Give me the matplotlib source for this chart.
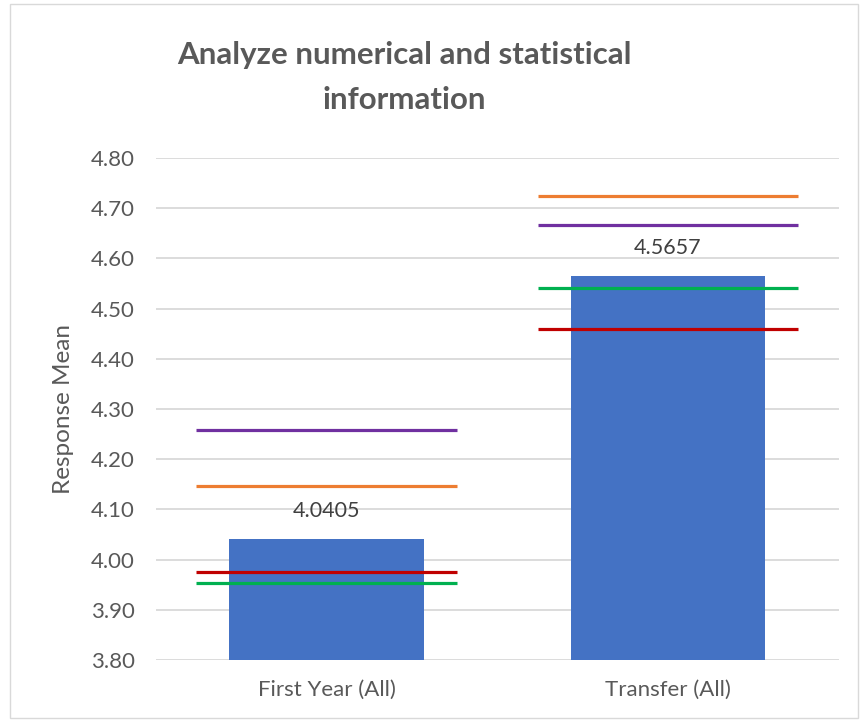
import matplotlib.pyplot as plt
from matplotlib.patches import Rectangle
import numpy as np

# Data
categories = ["First Year (All)", "Transfer (All)"]
response_mean = [4.0405, 4.5657]

# marker lines per group
purple_vals = [4.258, 4.667]
orange_vals = [4.146, 4.724]
red_vals = [3.976, 4.459]
green_vals = [3.954, 4.540]

plt.rcParams['font.family'] = ['Lato', 'DejaVu Sans']
text_col = '#595959'

fig = plt.figure(figsize=(8.65, 7.21), dpi=100)
ax = fig.add_axes([0.1803, 0.0846, 0.7893, 0.6963])

x = np.arange(len(categories))
bars = ax.bar(x, response_mean, width=0.57, color='#4472C4', zorder=2)

# horizontal markers
line_sets = [(purple_vals, '#7030A0'), (orange_vals, '#ED7D31'),
             (red_vals, '#C00000'), (green_vals, '#00B050')]
for vals, col in line_sets:
    ax.hlines(vals, x - 0.382, x + 0.382, colors=col, linewidth=2.3, zorder=3)

# data labels
for xi, v in zip(x, response_mean):
    ax.annotate(f"{v:.4f}", (xi, v), xytext=(0, 20), textcoords='offset points',
                ha='center', va='center', fontsize=15.5, color='#404040', zorder=4)

ax.set_xlim(-0.5, 1.5)
ax.set_ylim(3.80, 4.80)
ax.set_yticks(np.arange(3.80, 4.81, 0.10))
ax.yaxis.set_major_formatter(plt.FormatStrFormatter('%.2f'))
ax.set_xticks(x)
ax.set_xticklabels(categories)
ax.tick_params(axis='both', length=0, labelsize=16, labelcolor=text_col)
ax.tick_params(axis='x', pad=14)
ax.tick_params(axis='y', pad=15)
ax.grid(axis='y', color='#d9d9d9', linewidth=1.3, zorder=0)
ax.set_axisbelow(True)
for s in ax.spines.values():
    s.set_visible(False)

ax.set_ylabel("Response Mean", fontsize=17.5, color=text_col, labelpad=12)

fig.text(0.467, 0.8925, "Analyze numerical and statistical\ninformation",
         ha='center', va='center', fontsize=22.5, fontweight='bold',
         color=text_col, linespacing=1.75)

# chart border
fig.patches.append(Rectangle((0.012, 0.004), 0.98, 0.99, transform=fig.transFigure,
                             fill=False, edgecolor='#d9d9d9', linewidth=1))

plt.savefig("out.png", dpi=100)
